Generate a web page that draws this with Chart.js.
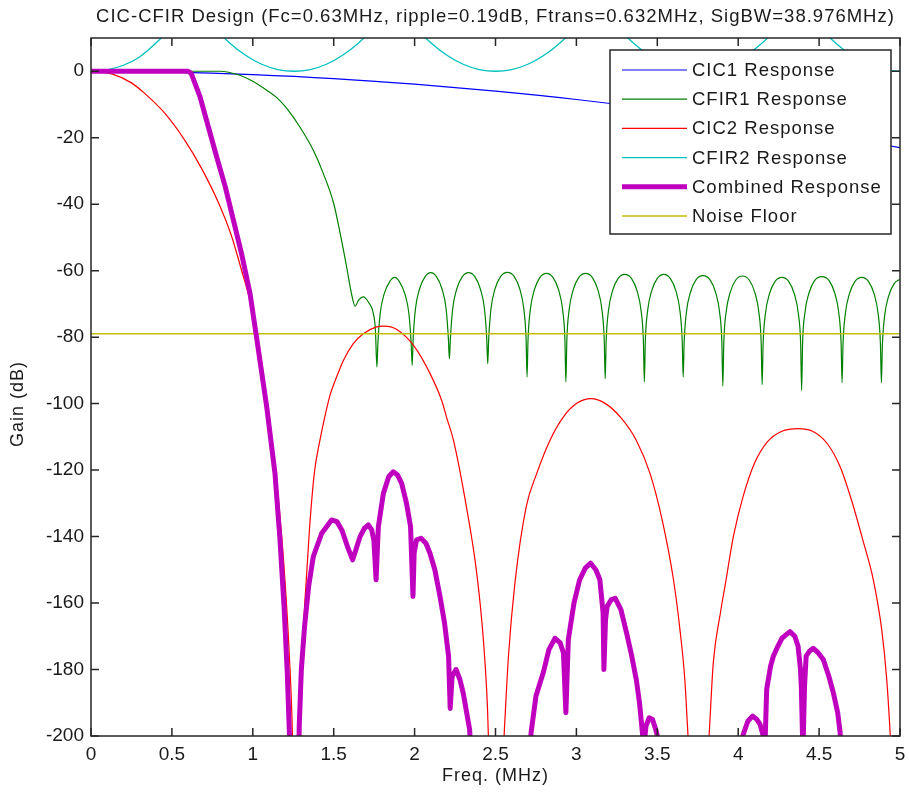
<!DOCTYPE html>
<html lang="en">
<head>
<meta charset="UTF-8">
<title>CIC-CFIR Design</title>
<style>
  html, body { margin: 0; padding: 0; background: #fff; }
  #wrap { width: 909px; height: 793px; position: relative; }
</style>
</head>
<body>
<div id="wrap"><canvas id="myChart"></canvas></div>

<script src="https://cdn.jsdelivr.net/npm/chart.js"></script>
<script>
// --- response curves (freq in MHz, gain in dB) ---
const cic1Freq = [0, 0.5, 1.0, 1.5, 2.0, 2.5, 3.0, 3.5, 4.0, 4.5, 5.0];
const cic1Gain = [0, -0.25, -1.0, -2.2, -3.9, -6.0, -8.5, -11.5, -15.0, -18.8, -23.0];

const cfir1Freq = [
  0, 0.8, 0.85, 0.92, 1.0, 1.086, 1.15, 1.21, 1.29, 1.374, 1.436, 1.5, 1.54, 1.58, 1.61, 1.632, 1.655, 1.683, 1.715, 1.745, 1.758,
  1.767, 1.773, 1.787, 1.812, 1.847, 1.876, 1.905, 1.94, 1.965, 1.979,
  1.985, 1.991, 2.005, 2.03, 2.065, 2.10, 2.135, 2.17, 2.195, 2.209,
  2.215, 2.221, 2.235, 2.26, 2.295, 2.334, 2.372, 2.407, 2.432, 2.446,
  2.452, 2.458, 2.472, 2.497, 2.532, 2.574, 2.615, 2.65, 2.675, 2.689,
  2.695, 2.701, 2.715, 2.74, 2.775, 2.815, 2.855, 2.89, 2.915, 2.929,
  2.935, 2.941, 2.955, 2.98, 3.015, 3.057, 3.098, 3.133, 3.158, 3.172,
  3.178, 3.184, 3.198, 3.223, 3.258, 3.299, 3.34, 3.375, 3.40, 3.414,
  3.42, 3.426, 3.44, 3.465, 3.50, 3.54, 3.58, 3.615, 3.64, 3.654,
  3.66, 3.666, 3.68, 3.705, 3.74, 3.783, 3.825, 3.86, 3.885, 3.899,
  3.905, 3.911, 3.925, 3.95, 3.985, 4.027, 4.068, 4.103, 4.128, 4.142,
  4.148, 4.154, 4.168, 4.193, 4.228, 4.27, 4.312, 4.347, 4.372, 4.386,
  4.392, 4.398, 4.412, 4.437, 4.472, 4.517, 4.562, 4.597, 4.622, 4.636,
  4.642, 4.648, 4.662, 4.687, 4.722, 4.764, 4.805, 4.84, 4.865, 4.879,
  4.885, 4.891, 4.905, 4.93, 4.965, 5.0
];
const cfir1Gain = [
  0, 0, -0.3, -1.2, -3.0, -5.7, -8.0, -11.2, -16.7, -23.8, -30.8, -39.8, -48.8, -58.9, -66.9, -70.7, -68.8, -67.9, -69.5, -72.9, -78,
  -89, -82, -73, -67, -63.2, -62.0, -63.2, -67, -73, -82,
  -88.5, -80.6, -71.6, -65.6, -61.8, -60.6, -61.8, -65.6, -71.6, -80.6,
  -86.5, -80.6, -71.6, -65.6, -61.8, -60.6, -61.8, -65.6, -71.6, -80.6,
  -88, -80.5, -71.5, -65.5, -61.7, -60.5, -61.7, -65.5, -71.5, -80.5,
  -92, -80.8, -71.8, -65.8, -62, -60.8, -62, -65.8, -71.8, -80.8,
  -93.5, -80.8, -71.8, -65.8, -62, -60.8, -62, -65.8, -71.8, -80.8,
  -92.5, -81.1, -72.1, -66.1, -62.3, -61.1, -62.3, -66.1, -72.1, -81.1,
  -93.5, -81.1, -72.1, -66.1, -62.3, -61.1, -62.3, -66.1, -72.1, -81.1,
  -92, -81.5, -72.5, -66.5, -62.7, -61.5, -62.7, -66.5, -72.5, -81.5,
  -94.7, -81.6, -72.6, -66.6, -62.8, -61.6, -62.8, -66.6, -72.6, -81.6,
  -94.3, -82, -73, -67, -63.2, -62, -63.2, -67, -73, -82,
  -96, -81.8, -72.8, -66.8, -63, -61.8, -63, -66.8, -72.8, -81.8,
  -93.7, -82, -73, -67, -63.2, -62, -63.2, -67, -73, -82,
  -93.7, -82.6, -73.6, -67.6, -63.8, -62.6
];

const cic2Freq = [
  0, 0.128, 0.25, 0.33, 0.457, 0.58, 0.684, 0.79, 0.87, 0.93, 0.98, 1.03, 1.094, 1.14, 1.19, 1.225, 1.245, 1.262,
  1.278, 1.30, 1.32, 1.35, 1.38, 1.415, 1.445, 1.48, 1.51, 1.56, 1.62, 1.683, 1.76, 1.81, 1.89, 2.0, 2.095, 2.167,
  2.2, 2.24, 2.32, 2.384, 2.425, 2.45, 2.456, 2.50, 2.553, 2.58, 2.62, 2.69, 2.755, 2.837, 2.92, 3.0, 3.09, 3.18,
  3.28, 3.37, 3.455, 3.53, 3.6, 3.64, 3.67, 3.69, 3.755, 3.82, 3.846, 3.89, 3.925, 3.97, 4.03, 4.10, 4.18, 4.27,
  4.37, 4.46, 4.55, 4.63, 4.70, 4.77, 4.835, 4.887, 4.918, 4.94, 4.99, 5.0
];
const cic2Gain = [
  0, -0.8, -3.5, -6.6, -12.7, -20.8, -29.3, -39.8, -49.8, -59.8, -68.5, -80, -102, -120, -147, -175, -200, -250,
  -200, -180, -161, -138, -121, -111, -104, -97, -93, -87, -82, -79, -77, -76.7, -77.7, -82.9, -90.9, -99,
  -104.5, -111, -131, -151, -171, -191, -200, -250, -200, -176, -154, -131, -121, -111, -104, -100, -98.5, -100,
  -104.5, -111, -121, -135, -153, -168, -183, -200, -250, -200, -178, -163, -153, -140, -128, -118, -111.5, -108.3,
  -107.5, -108.3, -112, -119, -129, -141, -153, -168, -183, -200, -250, -230
];

const cfir2Freq = [
  0, 0.1, 0.2, 0.3, 0.4, 0.5, 0.627, 0.755, 0.855, 0.955, 1.055, 1.155, 1.255,
  1.355, 1.455, 1.555, 1.655, 1.755, 1.877, 2.0, 2.1, 2.2, 2.3, 2.4, 2.5,
  2.6, 2.7, 2.8, 2.9, 3.0, 3.125, 3.25, 3.35, 3.45, 3.55, 3.65, 3.75,
  3.85, 3.95, 4.05, 4.15, 4.25, 4.375, 4.5, 4.6, 4.7, 4.8, 4.9, 5.0
];
const cfir2Gain = [
  0, 0.4, 1.8, 4.3, 8.4, 13.4, 21, 13.4, 8.6, 4.8, 2.1, 0.5, 0,
  0.5, 2.1, 4.8, 8.6, 13.4, 21, 13.4, 8.6, 4.8, 2.1, 0.5, 0,
  0.5, 2.1, 4.8, 8.6, 13.4, 21, 13.4, 8.6, 4.8, 2.1, 0.5, 0,
  0.5, 2.1, 4.8, 8.6, 13.4, 21, 13.4, 8.6, 4.8, 2.1, 0.5, 0
];

const combFreq = [
  0, 0.6, 0.62, 0.674, 0.725, 0.777, 0.83, 0.88, 0.93, 0.983, 1.02, 1.086, 1.137, 1.168, 1.193, 1.213, 1.226, 1.245,
  1.27, 1.287, 1.30, 1.32, 1.345, 1.374, 1.426, 1.487, 1.52, 1.55, 1.585, 1.617, 1.64, 1.663, 1.69, 1.714, 1.735, 1.748,
  1.762, 1.768, 1.776, 1.807, 1.84, 1.868, 1.895, 1.92, 1.95, 1.975, 1.99, 1.997, 2.012, 2.04, 2.07, 2.095, 2.125, 2.157,
  2.185, 2.21, 2.22, 2.232, 2.256, 2.28, 2.30, 2.34, 2.36, 2.70, 2.72, 2.75, 2.795, 2.83, 2.868, 2.90, 2.92, 2.935,
  2.95, 2.985, 3.02, 3.055, 3.088, 3.12, 3.145, 3.165, 3.17, 3.18, 3.19, 3.215, 3.24, 3.275, 3.31, 3.34, 3.37, 3.39,
  3.41, 3.42, 3.43, 3.45, 3.47, 3.49, 3.506, 3.52, 4.0, 4.03, 4.06, 4.09, 4.115, 4.135, 4.155, 4.165, 4.176, 4.2,
  4.217, 4.245, 4.27, 4.32, 4.35, 4.37, 4.385, 4.39, 4.40, 4.41, 4.42, 4.44, 4.464, 4.495, 4.526, 4.56, 4.588, 4.615,
  4.63, 4.645, 5.0
];
const combGain = [
  0, 0, -0.7, -7.7, -16.7, -25.8, -34.8, -44.8, -54.8, -66.9, -79, -101, -121, -141, -161, -181, -199, -250,
  -250, -197, -180, -167, -155, -146, -139, -135, -135.5, -138, -143, -147, -143.5, -140, -137.5, -136.5, -138, -141,
  -153, -146, -137, -127, -122, -120.5, -121.5, -124, -130, -137, -158, -145, -141, -140.5, -142, -145, -150, -158,
  -166, -176, -191.7, -182, -180, -183, -187, -198, -215, -215, -199, -188, -181, -174, -170.6, -172, -175, -193,
  -171, -160, -153, -149.5, -148, -150, -153, -163, -180, -165, -161, -159, -158.6, -162, -169, -175.5, -183, -190,
  -200, -202, -197, -194.5, -195, -198, -201, -215, -215, -199.7, -195.5, -194, -195, -196.5, -200, -204, -186, -179,
  -176, -173, -170.6, -168.6, -170, -173, -180, -185, -205, -185, -176, -174.5, -173.6, -175, -177, -182, -187, -193,
  -199, -215, -215
];

const noiseFreq = [0, 5];
const noiseGain = [-79, -79];

const xTicks = [0, 0.5, 1, 1.5, 2, 2.5, 3, 3.5, 4, 4.5, 5];
const yTicks = [-200, -180, -160, -140, -120, -100, -80, -60, -40, -20, 0];

const titleText = 'CIC-CFIR Design (Fc=0.63MHz, ripple=0.19dB, Ftrans=0.632MHz, SigBW=38.976MHz)';
const FONT = "'Liberation Sans', Arial, sans-serif";

function pts(fx, gy) {
  return fx.map((f, i) => ({ x: f, y: gy[i] }));
}

function series(label, fx, gy, color, width, order, smooth) {
  return {
    label: label,
    data: pts(fx, gy),
    borderColor: color,
    backgroundColor: color,
    borderWidth: width,
    pointRadius: 0,
    tension: smooth ? 0.4 : 0,
    cubicInterpolationMode: smooth ? 'monotone' : 'default',
    borderJoinStyle: 'round',
    clip: 0,
    order: order
  };
}

// frame with inward ticks, title, axis labels and the boxed legend
const decorations = {
  id: 'decorations',
  afterDatasetsDraw(chart) {
    const ctx = chart.ctx;
    const a = chart.chartArea;
    const xs = chart.scales.x, ys = chart.scales.y;
    ctx.save();
    ctx.strokeStyle = '#262626';
    ctx.lineWidth = 1.5;
    ctx.strokeRect(a.left, a.top, a.right - a.left, a.bottom - a.top);
    ctx.beginPath();
    xTicks.forEach(v => {
      const px = xs.getPixelForValue(v);
      ctx.moveTo(px, a.bottom); ctx.lineTo(px, a.bottom - 8);
      ctx.moveTo(px, a.top); ctx.lineTo(px, a.top + 8);
    });
    yTicks.forEach(v => {
      const py = ys.getPixelForValue(v);
      ctx.moveTo(a.left, py); ctx.lineTo(a.left + 8, py);
      ctx.moveTo(a.right, py); ctx.lineTo(a.right - 8, py);
    });
    ctx.stroke();

    ctx.fillStyle = '#1a1a1a';
    ctx.letterSpacing = '1px';
    ctx.font = '18.5px ' + FONT;
    ctx.textAlign = 'center';
    ctx.textBaseline = 'middle';
    ctx.fillText(titleText, (a.left + a.right) / 2, 17);
    ctx.font = '18px ' + FONT;
    ctx.fillText('Freq. (MHz)', (a.left + a.right) / 2, 776);
    ctx.save();
    ctx.translate(18, 404);
    ctx.rotate(-Math.PI / 2);
    ctx.fillText('Gain (dB)', 0, 0);
    ctx.restore();

    // legend box
    const bx = a.right - 290, by = a.top + 12, bw = 281, bh = 184;
    ctx.fillStyle = '#fff';
    ctx.fillRect(bx, by, bw, bh);
    ctx.strokeStyle = '#262626';
    ctx.lineWidth = 1.5;
    ctx.strokeRect(bx, by, bw, bh);
    ctx.textAlign = 'left';
    ctx.font = '18.5px ' + FONT;
    chart.data.datasets.forEach((ds, i) => {
      const ry = by + 20 + i * 29.2;
      ctx.strokeStyle = ds.borderColor;
      ctx.lineWidth = ds.borderWidth;
      ctx.beginPath();
      ctx.moveTo(bx + 12, ry);
      ctx.lineTo(bx + 77, ry);
      ctx.stroke();
      ctx.fillStyle = '#1a1a1a';
      ctx.fillText(ds.label, bx + 82, ry + 1);
    });
    ctx.restore();
  }
};

new Chart(document.getElementById('myChart'), {
  type: 'line',
  data: {
    datasets: [
      series('CIC1 Response', cic1Freq, cic1Gain, '#0000ff', 1.2, 5, true),
      series('CFIR1 Response', cfir1Freq, cfir1Gain, '#008000', 1.2, 4, true),
      series('CIC2 Response', cic2Freq, cic2Gain, '#ff0000', 1.2, 3, true),
      series('CFIR2 Response', cfir2Freq, cfir2Gain, '#00bfbf', 1.3, 2, true),
      series('Combined Response', combFreq, combGain, '#bf00bf', 5, 0, false),
      series('Noise Floor', noiseFreq, noiseGain, '#bfbf00', 1.5, 1, false)
    ]
  },
  options: {
    responsive: true,
    maintainAspectRatio: false,
    animation: false,
    layout: { padding: { top: 38, right: 9, left: 0, bottom: 0 } },
    plugins: {
      legend: { display: false },
      title: { display: false },
      tooltip: { enabled: false }
    },
    scales: {
      x: {
        type: 'linear',
        min: 0,
        max: 5,
        afterBuildTicks: s => { s.ticks = xTicks.map(v => ({ value: v })); },
        afterFit: s => { s.height = 57; s.paddingLeft = 0; s.paddingRight = 0; },
        grid: { display: false, drawTicks: false },
        border: { display: false },
        ticks: {
          color: '#1a1a1a', padding: 7, maxRotation: 0,
          font: { size: 19, family: FONT },
          callback: v => String(v)
        }
      },
      y: {
        type: 'linear',
        min: -200,
        max: 10,
        afterBuildTicks: s => { s.ticks = yTicks.map(v => ({ value: v })); },
        afterFit: s => { s.width = 91; s.paddingTop = 0; s.paddingBottom = 0; },
        grid: { display: false, drawTicks: false },
        border: { display: false },
        ticks: { color: '#1a1a1a', padding: 7, font: { size: 19, family: FONT } }
      }
    }
  },
  plugins: [decorations]
});
</script>
</body>
</html>
